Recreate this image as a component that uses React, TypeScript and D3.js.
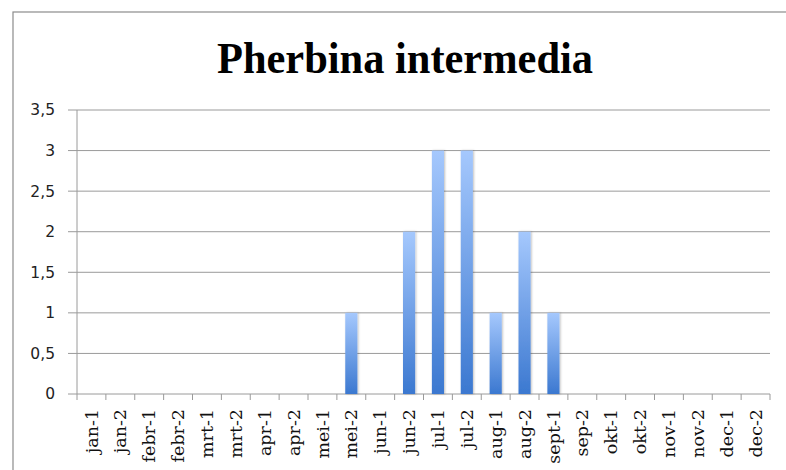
import React from 'react';
import * as d3 from 'd3';

const categories = [
  'jan-1', 'jan-2', 'febr-1', 'febr-2', 'mrt-1', 'mrt-2', 'apr-1', 'apr-2',
  'mei-1', 'mei-2', 'jun-1', 'jun-2', 'jul-1', 'jul-2', 'aug-1', 'aug-2',
  'sept-1', 'sep-2', 'okt-1', 'okt-2', 'nov-1', 'nov-2', 'dec-1', 'dec-2',
];
const counts = [0, 0, 0, 0, 0, 0, 0, 0, 0, 1, 0, 2, 3, 3, 1, 2, 1, 0, 0, 0, 0, 0, 0, 0];
const yTicks = [0, 0.5, 1, 1.5, 2, 2.5, 3, 3.5];
const title = 'Pherbina intermedia';

const W = 786;
const H = 470;
const left = 77;
const right = 770;
const top = 110;
const bottom = 394;

export default function App() {
  const x = d3.scaleBand<string>()
    .domain(categories)
    .range([left, right])
    .paddingInner(0.58)
    .paddingOuter(0.29);
  const y = d3.scaleLinear().domain([0, 3.5]).range([bottom, top]);
  const fmt = (v: number) => String(v).replace('.', ',');
  const step = x.step();

  return (
    <svg width={W} height={H} style={{ position: 'absolute', left: 0, top: 0, background: '#fff' }}>
      <defs>
        <linearGradient id="barFill" x1="0" y1="0" x2="0" y2="1">
          <stop offset="0%" stopColor="#a5c8fd" />
          <stop offset="100%" stopColor="#3b78d0" />
        </linearGradient>
        <filter id="shadow" x="-50%" y="-10%" width="200%" height="120%">
          <feDropShadow dx="1" dy="0" stdDeviation="1" floodColor="#000" floodOpacity="0.25" />
        </filter>
      </defs>

      <rect x={13} y={12} width={820} height={520} fill="none" stroke="#8c8c8c" strokeWidth={1.2} />

      <text x={405} y={73} textAnchor="middle" fontFamily="'Liberation Serif', serif"
        fontWeight="bold" fontSize={44} textLength={376} lengthAdjust="spacingAndGlyphs" fill="#000">{title}</text>

      {yTicks.map(t => (
        <g key={t}>
          <line x1={68} x2={right} y1={y(t)} y2={y(t)} stroke="#9a9a9a" strokeWidth={1} />
          <text x={55} y={y(t)} dy="0.35em" textAnchor="end" fontFamily="'DejaVu Sans', sans-serif"
            fontSize={15.5} fill="#222">{fmt(t)}</text>
        </g>
      ))}

      <line x1={left} x2={left} y1={top} y2={bottom} stroke="#9a9a9a" strokeWidth={1} />

      {categories.map((c, i) => (
        <line key={'t' + c} x1={left + i * step} x2={left + i * step} y1={bottom} y2={bottom + 6}
          stroke="#9a9a9a" strokeWidth={1} />
      ))}
      <line x1={right} x2={right} y1={bottom} y2={bottom + 6} stroke="#9a9a9a" strokeWidth={1} />

      {categories.map((c, i) => counts[i] > 0 && (
        <rect key={'b' + c} x={x(c)} y={y(counts[i])} width={x.bandwidth()}
          height={bottom - y(counts[i])} fill="url(#barFill)" filter="url(#shadow)" />
      ))}

      {categories.map(c => {
        const cx = (x(c) ?? 0) + x.bandwidth() / 2;
        return (
          <text key={'l' + c} transform={`translate(${cx},${bottom + 15}) rotate(-90)`}
            textAnchor="end" dy="0.35em" fontFamily="'DejaVu Serif', serif" fontSize={17.5} fill="#111">{c}</text>
        );
      })}
    </svg>
  );
}
